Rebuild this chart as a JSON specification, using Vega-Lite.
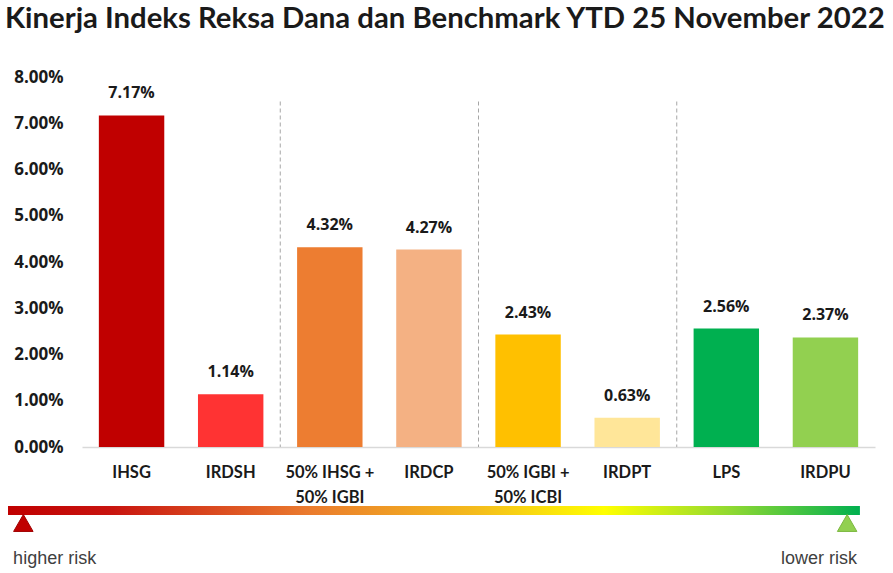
{
  "$schema": "https://vega.github.io/schema/vega-lite/v6.json",
  "padding": {"left": 5, "top": 4, "right": 0, "bottom": 0},
  "background": "white",
  "title": {
    "text": "Kinerja Indeks Reksa Dana dan Benchmark YTD 25 November 2022",
    "font": "Lato",
    "fontSize": 29.3,
    "fontWeight": "bold",
    "color": "#1a1a1a",
    "anchor": "start",
    "frame": "bounds",
    "dx": -3,
    "offset": 34
  },
  "spacing": -5,
  "config": {"view": {"stroke": null}},
  "vconcat": [
    {
      "width": 793,
      "height": 370,
      "data": {
        "values": [
          {"name": "IHSG", "value": 0.0717},
          {"name": "IRDSH", "value": 0.0114},
          {"name": "50% IHSG + 50% IGBI", "value": 0.0432},
          {"name": "IRDCP", "value": 0.0427},
          {"name": "50% IGBI + 50% ICBI", "value": 0.0243},
          {"name": "IRDPT", "value": 0.0063},
          {"name": "LPS", "value": 0.0256},
          {"name": "IRDPU", "value": 0.0237}
        ]
      },
      "layer": [
        {
          "mark": {"type": "bar"},
          "encoding": {
            "x": {
              "field": "name",
              "type": "nominal",
              "sort": null,
              "scale": {
                "domain": ["IHSG", "IRDSH", "50% IHSG + 50% IGBI", "IRDCP", "50% IGBI + 50% ICBI", "IRDPT", "LPS", "IRDPU"],
                "paddingInner": 0.34,
                "paddingOuter": 0.17
              },
              "axis": {
                "title": null,
                "labelAngle": 0,
                "ticks": false,
                "domainColor": "#d9d9d9",
                "domainWidth": 1.5,
                "labelFont": "Lato",
                "labelFontSize": 16.5,
                "labelFontWeight": "bold",
                "labelColor": "#1a1a1a",
                "labelPadding": 17,
                "labelLineHeight": 25,
                "labelBaseline": "top",
                "labelExpr": "split(replace(datum.label, ' + ', ' +|'), '|')"
              }
            },
            "y": {
              "field": "value",
              "type": "quantitative",
              "scale": {"domain": [0, 0.08]},
              "axis": {
                "title": null,
                "values": [0, 0.01, 0.02, 0.03, 0.04, 0.05, 0.06, 0.07, 0.08],
                "format": ".2%",
                "grid": false,
                "domain": false,
                "ticks": false,
                "labelFont": "Open Sans",
                "labelFontSize": 17,
                "labelFontWeight": "bold",
                "labelColor": "#1a1a1a",
                "labelPadding": 19
              }
            },
            "color": {
              "field": "name",
              "type": "nominal",
              "legend": null,
              "scale": {
                "domain": ["IHSG", "IRDSH", "50% IHSG + 50% IGBI", "IRDCP", "50% IGBI + 50% ICBI", "IRDPT", "LPS", "IRDPU"],
                "range": ["#c00000", "#ff3333", "#ed7d31", "#f4b183", "#ffc000", "#ffe699", "#00b050", "#92d050"]
              }
            }
          }
        },
        {
          "mark": {"type": "text", "font": "Open Sans", "fontSize": 16, "fontWeight": "bold", "color": "#1a1a1a", "baseline": "middle", "dy": -22},
          "encoding": {
            "x": {"field": "name", "type": "nominal", "sort": null},
            "y": {"field": "value", "type": "quantitative"},
            "text": {"field": "value", "type": "quantitative", "format": ".2%"}
          }
        },
        {
          "data": {"values": [{"name": "IRDSH"}, {"name": "IRDCP"}, {"name": "IRDPT"}]},
          "mark": {"type": "rule", "color": "#a6a6a6", "strokeDash": [4, 3], "strokeWidth": 1},
          "encoding": {
            "x": {"field": "name", "type": "nominal", "sort": null, "bandPosition": 1.2576},
            "y": {"datum": 0.0747, "type": "quantitative"},
            "y2": {"datum": 0}
          }
        }
      ]
    },
    {
      "width": 793,
      "height": 60,
      "layer": [
        {
          "data": {"values": [{"start": 0, "end": 1, "top": 0, "bottom": 9}]},
          "mark": {
            "type": "rect",
            "color": {
              "gradient": "linear",
              "x1": 0, "x2": 1, "y1": 0, "y2": 0,
              "stops": [
                {"offset": 0, "color": "#c00000"},
                {"offset": 0.12, "color": "#c8140f"},
                {"offset": 0.35, "color": "#ea7a2e"},
                {"offset": 0.55, "color": "#f4bc1c"},
                {"offset": 0.7, "color": "#ffff00"},
                {"offset": 0.85, "color": "#8ed832"},
                {"offset": 1, "color": "#00b050"}
              ]
            }
          },
          "encoding": {
            "x": {"field": "start", "type": "quantitative", "scale": {"domain": [0.08685, 1.0177], "zero": false, "nice": false}, "axis": null},
            "x2": {"field": "end"},
            "y": {"field": "top", "type": "quantitative", "scale": {"domain": [0, 60], "reverse": true, "zero": false, "nice": false}, "axis": null},
            "y2": {"field": "bottom"}
          }
        },
        {
          "data": {"values": [{"side": "higher risk", "pos": 0.018, "level": 17}, {"side": "lower risk", "pos": 0.985, "level": 17}]},
          "mark": {"type": "point", "shape": "triangle-up", "filled": true, "size": 380, "opacity": 1, "strokeWidth": 1},
          "encoding": {
            "x": {"field": "pos", "type": "quantitative"},
            "y": {"field": "level", "type": "quantitative"},
            "fill": {"field": "side", "type": "nominal", "legend": null, "scale": {"domain": ["higher risk", "lower risk"], "range": ["#c00000", "#92d050"]}},
            "stroke": {"field": "side", "type": "nominal", "legend": null, "scale": {"domain": ["higher risk", "lower risk"], "range": ["#a00000", "#7cb840"]}}
          }
        },
        {
          "data": {"values": [{"label": "higher risk", "pos": 0.006, "level": 58}]},
          "mark": {"type": "text", "font": "Liberation Sans", "fontSize": 18, "color": "#404040", "align": "left", "baseline": "alphabetic"},
          "encoding": {
            "x": {"field": "pos", "type": "quantitative"},
            "y": {"field": "level", "type": "quantitative"},
            "text": {"field": "label"}
          }
        },
        {
          "data": {"values": [{"label": "lower risk", "pos": 0.9965, "level": 58}]},
          "mark": {"type": "text", "font": "Liberation Sans", "fontSize": 18, "color": "#404040", "align": "right", "baseline": "alphabetic"},
          "encoding": {
            "x": {"field": "pos", "type": "quantitative"},
            "y": {"field": "level", "type": "quantitative"},
            "text": {"field": "label"}
          }
        }
      ]
    }
  ]
}
